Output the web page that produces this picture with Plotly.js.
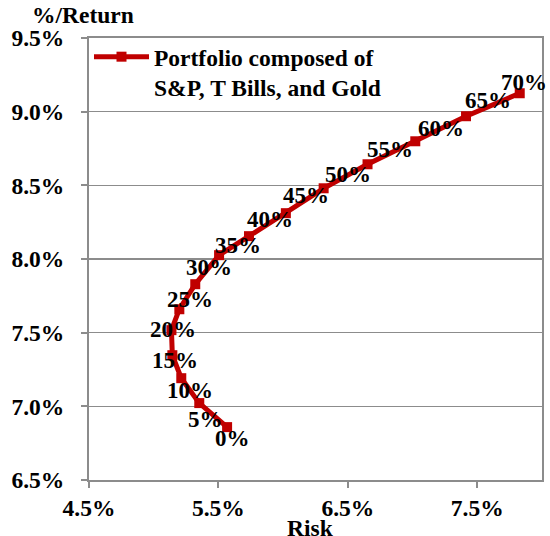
<!DOCTYPE html>
<html>
<head>
<meta charset="utf-8">
<script src="https://cdn.plot.ly/plotly-3.0.1.min.js"></script>
<style>html,body{margin:0;padding:0;background:#fff;}#chart{width:550px;height:536px;}</style>
</head>
<body>
<div id="chart"></div>
<script>
// Data (values in percent)
var pointLabels = ['0%','5%','10%','15%','20%','25%','30%','35%','40%','45%','50%','55%','60%','65%','70%'];
var riskValues = [5.567, 5.352, 5.213, 5.144, 5.137, 5.198, 5.321, 5.505, 5.736, 6.021, 6.313, 6.652, 7.021, 7.413, 7.828];
var returnValues = [6.859, 7.022, 7.191, 7.347, 7.517, 7.659, 7.829, 8.026, 8.155, 8.311, 8.480, 8.643, 8.799, 8.969, 9.125];
var seriesName = 'Portfolio composed of<br>S&P, T Bills, and Gold';
var xTickValues = [4.5, 5.5, 6.5, 7.5];
var yTickValues = [6.5, 7.0, 7.5, 8.0, 8.5, 9.0, 9.5];

// label pixel offsets (layout only)
var labelDx = [5.5, 6.5, 8.5, 3, 1.5, 10.5, 14, 18.5, 21.5, 20.5, 24.5, 22.5, 25.5, 22, 4];
var labelDy = [12, 17, 13.5, 6.5, 0, -9, -15.5, -8.5, -16, -16.5, -13, -14, -11.5, -14.5, -9.5];

var RED = '#C00000';
var GRID = '#8c8c8c';
var FONT = 'Liberation Serif';

var trace = {
  x: riskValues,
  y: returnValues,
  type: 'scatter',
  mode: 'lines+markers',
  name: seriesName,
  line: {color: RED, width: 5},
  marker: {symbol: 'square', size: 10, color: RED},
  hoverinfo: 'skip'
};

var annotations = pointLabels.map(function (t, i) {
  return {
    x: riskValues[i], y: returnValues[i], xref: 'x', yref: 'y',
    text: t, showarrow: false, xanchor: 'center', yanchor: 'middle',
    xshift: labelDx[i], yshift: -labelDy[i] + 1,
    font: {family: FONT, size: 23, color: '#000', weight: 700}
  };
});
annotations.push({
  xref: 'paper', yref: 'paper', x: 0, y: 1, xanchor: 'center', yanchor: 'bottom',
  xshift: -6.5, yshift: 8, text: '%/Return', showarrow: false,
  font: {family: FONT, size: 23.5, color: '#000', weight: 700}
});
annotations.push({
  xref: 'paper', yref: 'paper', x: 0.49, y: 0, xanchor: 'center', yanchor: 'top',
  yshift: -33, text: 'Risk', showarrow: false,
  font: {family: FONT, size: 23.5, color: '#000', weight: 700}
});

var layout = {
  width: 550, height: 536,
  margin: {l: 89, r: 8, t: 38, b: 56, pad: 0},
  paper_bgcolor: '#fff', plot_bgcolor: '#fff',
  font: {family: FONT},
  showlegend: true,
  legend: {
    x: 0.0, y: 1.007, xanchor: 'left', yanchor: 'top',
    bgcolor: 'rgba(0,0,0,0)', borderwidth: 0,
    itemwidth: 55, valign: 'top',
    font: {family: FONT, size: 23.5, color: '#000', weight: 700}
  },
  xaxis: {
    range: [4.5, 8.0],
    tickmode: 'array', tickvals: xTickValues,
    ticktext: xTickValues.map(function (v) { return v.toFixed(1) + '%'; }),
    showgrid: false, zeroline: false,
    showline: true, linecolor: GRID, linewidth: 2, mirror: true,
    ticks: 'outside', ticklen: 6, tickwidth: 2, tickcolor: GRID,
    tickfont: {family: FONT, size: 23.5, color: '#000', weight: 700}
  },
  yaxis: {
    range: [6.5, 9.5],
    tickmode: 'array', tickvals: yTickValues,
    ticktext: yTickValues.map(function (v) { return v.toFixed(1) + '%'; }),
    showgrid: true, gridcolor: GRID, gridwidth: 1.5, zeroline: false,
    showline: true, linecolor: GRID, linewidth: 2, mirror: true,
    ticks: 'outside', ticklen: 6, tickwidth: 2, tickcolor: GRID,
    ticklabelstandoff: 12,
    tickfont: {family: FONT, size: 23.5, color: '#000', weight: 700}
  },
  annotations: annotations
};

Plotly.newPlot('chart', [trace], layout, {displayModeBar: false, staticPlot: true});
</script>
</body>
</html>
